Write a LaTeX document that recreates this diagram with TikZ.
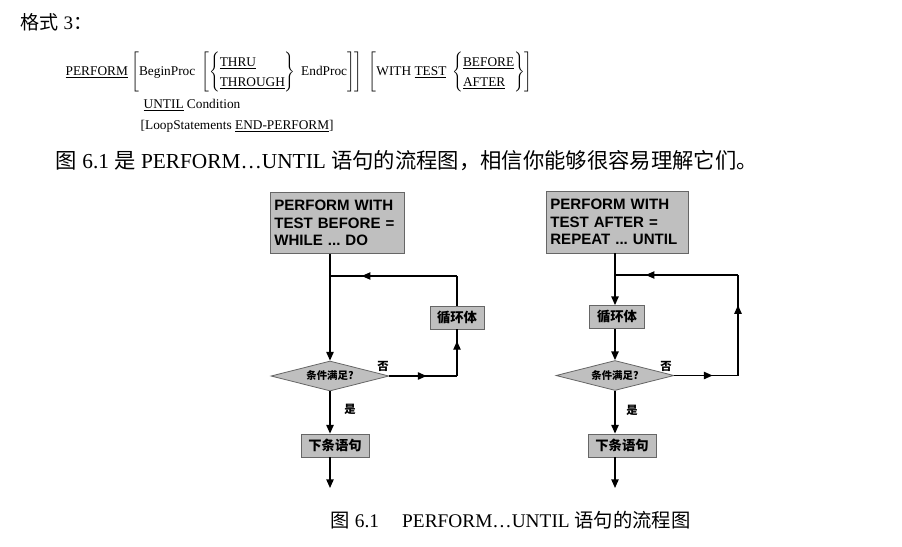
\documentclass[tikz,border=0pt]{standalone}
\usepackage{fontspec}
\setmainfont{Liberation Serif}
\newfontfamily\cjk{Noto Sans CJK SC}
\newfontfamily\boxfont{Liberation Sans}
\usetikzlibrary{shapes.geometric,arrows.meta,decorations.markings}

\tikzset{every picture/.style={line width=1pt}}
\tikzset{
  headbox/.style={draw=black!60, fill=black!25, line width=0.6pt, inner sep=0pt, align=left,
    font=\boxfont\bfseries\fontsize{11.3pt}{13pt}\selectfont\frenchspacing},
  procbox/.style={draw=black!60, fill=black!25, line width=0.6pt, inner sep=0pt, minimum height=17.25pt,
    font=\cjk\bfseries\fontsize{10pt}{12pt}\selectfont},
  condbox/.style={diamond, aspect=4, draw=black!60, fill=black!25, line width=0.6pt, inner sep=0pt,
    minimum width=88.5pt, minimum height=22.5pt, font=\cjk\bfseries\fontsize{7.8pt}{9pt}\selectfont},
  yesno/.style={inner sep=0pt, font=\cjk\bfseries\fontsize{8.5pt}{9pt}\selectfont},
  arr/.style={-{Triangle[length=6.5pt,width=5.5pt]}},
  midarrow/.style={postaction={decorate}, decoration={markings,
    mark=at position #1 with {\arrow{Triangle[length=6.5pt,width=5.5pt]}}}},
}

\begin{document}
\begin{tikzpicture}[x=0.75pt,y=0.75pt,yscale=-1,xscale=1]
\useasboundingbox (0,0) rectangle (902,546);

% Text: heading and syntax
\node[anchor=base west, inner sep=0pt, font=\fontsize{14.3pt}{16pt}\selectfont] (fmt) at (20,29) {{\cjk 格式} 3{\cjk ：}};
\node[anchor=west, inner sep=0pt, font=\fontsize{10pt}{12pt}\selectfont] (syn) at (65,72) {\def\arraystretch{1.25}%
\underline{PERFORM} $\left[\mbox{BeginProc}\;\left[\left\{\begin{array}{@{}l@{}}\mbox{\underline{THRU}}\\ \mbox{\underline{THROUGH}}\end{array}\right\}\mbox{ EndProc}\right]\right]\;\left[\mbox{WITH \underline{TEST}}\;\left\{\begin{array}{@{}l@{}}\mbox{\underline{BEFORE}}\\ \mbox{\underline{AFTER}}\end{array}\right\}\right]$};
\node[anchor=base west, inner sep=0pt, font=\fontsize{10pt}{12pt}\selectfont] (until) at (143,108) {\underline{UNTIL} Condition};
\node[anchor=base west, inner sep=0pt, font=\fontsize{10pt}{12pt}\selectfont] (loop) at (140,129) {[LoopStatements \underline{END-PERFORM}]};

% Text: intro line
\node[anchor=base west, inner sep=0pt, font=\fontsize{16pt}{18pt}\selectfont] (intro) at (55,168) {{\cjk 图} 6.1 {\cjk 是} PERFORM…UNTIL {\cjk 语句的流程图，相信你能够很容易理解它们。}};

% Left chart: WHILE ... DO
\node[headbox, minimum width=100.5pt, minimum height=45.75pt, text width=94pt] (head1) at (337,223) {PERFORM WITH\\TEST BEFORE =\\WHILE ... DO};
\node[procbox, minimum width=40.5pt] (body1) at (457,317.5) {循环体};
\node[condbox] (cond1) at (330,376) {条件满足?};
\node[procbox, minimum width=51pt] (next1) at (335,445.5) {下条语句};
\node[yesno] (no1) at (383,366) {否};
\node[yesno] (yes1) at (350,409) {是};
\coordinate (turn1) at (457,376);
\coordinate (top1) at (457,276);
\coordinate (join1) at (330,276);
\coordinate (out1) at (330,488);

\draw[arr] (head1.south -| cond1.north) -- (cond1.north);
\draw[midarrow=0.55] (cond1.east) -- (turn1);
\draw[midarrow=0.75] (turn1) -- (body1.south);
\draw (body1.north) -- (top1);
\draw[midarrow=0.75] (top1) -- (join1);
\draw[arr] (cond1.south) -- (next1.north -| cond1.south);
\draw[arr] (next1.south -| cond1.south) -- (out1);

% Right chart: REPEAT ... UNTIL
\node[headbox, minimum width=106.5pt, minimum height=46.5pt, text width=100pt] (head2) at (617,222) {PERFORM WITH\\TEST AFTER =\\REPEAT ... UNTIL};
\node[procbox, minimum width=41pt] (body2) at (617,317) {循环体};
\node[condbox] (cond2) at (615,375.5) {条件满足?};
\node[procbox, minimum width=51pt] (next2) at (622,445.5) {下条语句};
\node[yesno] (no2) at (666,366) {否};
\node[yesno] (yes2) at (632,410) {是};
\coordinate (turn2) at (738,375.5);
\coordinate (top2) at (738,275);
\coordinate (join2) at (615,275);
\coordinate (out2) at (615,488);

\draw[arr] (head2.south -| cond2.north) -- (body2.north -| cond2.north);
\draw[arr] (body2.south -| cond2.north) -- (cond2.north);
\draw[midarrow=0.6] (cond2.east) -- (turn2);
\draw[midarrow=0.7] (turn2) -- (top2);
\draw[midarrow=0.75] (top2) -- (join2);
\draw[arr] (cond2.south) -- (next2.north -| cond2.south);
\draw[arr] (next2.south -| cond2.south) -- (out2);

% Caption
\node[anchor=base west, inner sep=0pt, font=\fontsize{14.5pt}{16pt}\selectfont] (cap) at (330,527) {{\cjk 图} 6.1\hspace{1.2em}PERFORM…UNTIL {\cjk 语句的流程图}};

\end{tikzpicture}
\end{document}
